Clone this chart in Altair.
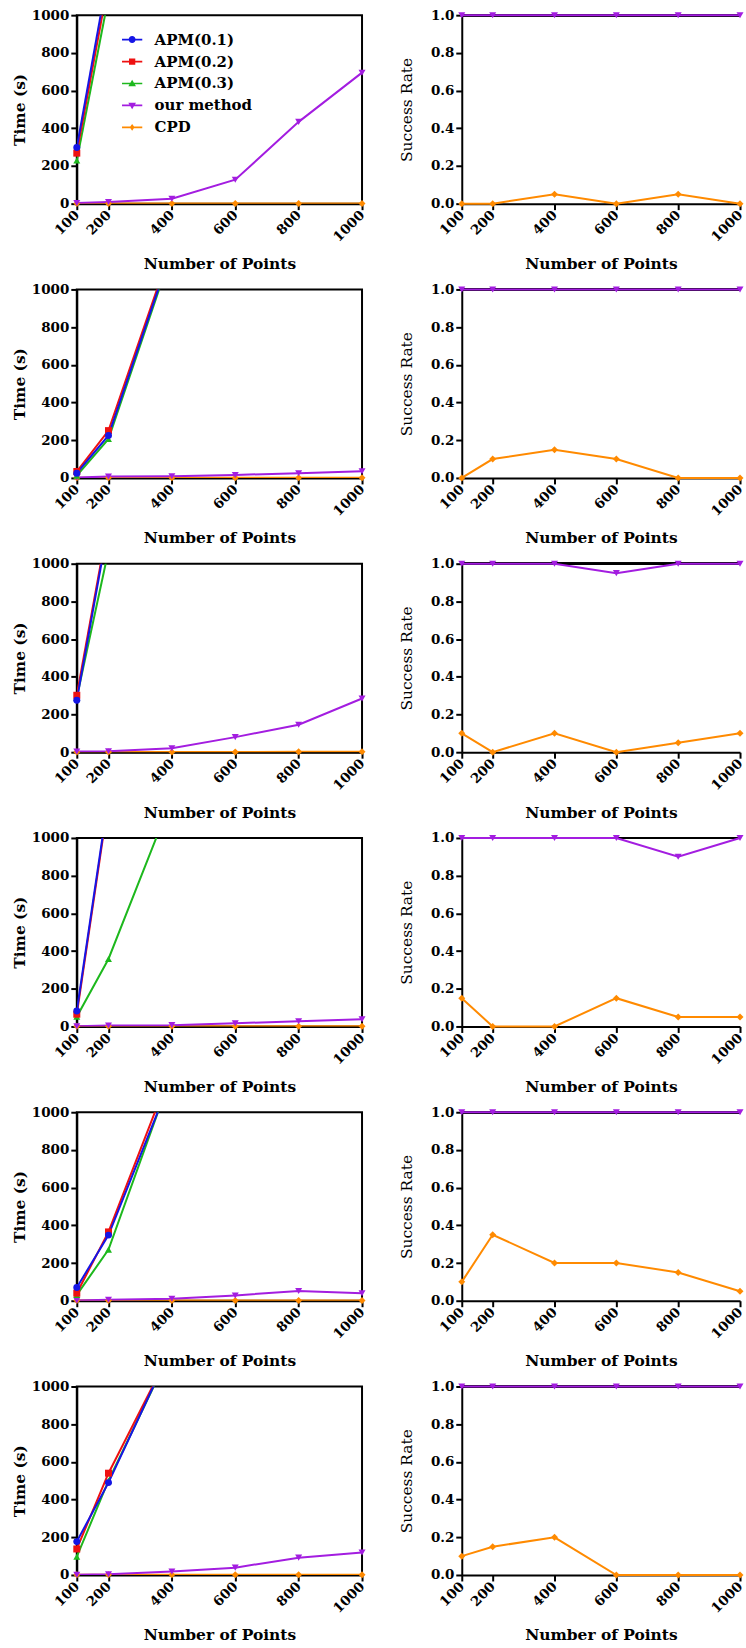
import altair as alt
import pandas as pd

# ---------------- data ----------------
X = [100, 200, 400, 600, 800, 1000]
SERIES = ["APM(0.1)", "APM(0.2)", "APM(0.3)", "our method", "CPD"]
COLORS = ["#1515E6", "#EE1111", "#1DB81D", "#A31DE0", "#FF8A00"]
SHAPES = ["circle", "square", "triangle-up", "triangle-down", "diamond"]

# Time (s) panels (APM values past 1000 run off the top of the plot)
t1_apm1 = [298, 1230]
t1_apm2 = [268, 1176]
t1_apm3 = [229, 1095]
t1_ours = [4, 9, 26, 127, 434, 695]
t1_cpd = [1, 1, 1, 1, 1, 1]

t2_apm1 = [25, 225, 1213]
t2_apm2 = [34, 251, 1230]
t2_apm3 = [12, 207, 1200]
t2_ours = [2, 7, 9, 16, 25, 35]
t2_cpd = [1, 1, 1, 1, 1, 1]

t3_apm1 = [276, 1208]
t3_apm2 = [302, 1227]
t3_apm3 = [290, 1070]
t3_ours = [4, 5, 21, 80, 146, 285]
t3_cpd = [1, 1, 1, 1, 2, 3]

t4_apm1 = [82, 1218]
t4_apm2 = [65, 1200]
t4_apm3 = [52, 358, 1210]
t4_ours = [1, 5, 7, 17, 28, 38]
t4_cpd = [1, 1, 1, 1, 1, 1]

t5_apm1 = [70, 348, 1188]
t5_apm2 = [40, 365, 1232]
t5_apm3 = [31, 271, 1205]
t5_ours = [1, 5, 10, 28, 52, 40]
t5_cpd = [1, 1, 1, 1, 1, 1]

t6_apm1 = [177, 490, 1210]
t6_apm2 = [138, 540, 1202]
t6_apm3 = [97, 500, 1200]
t6_ours = [1, 4, 18, 39, 92, 119]
t6_cpd = [1, 1, 1, 1, 1, 1]

# Success rate panels
s1_ours = [1.0, 1.0, 1.0, 1.0, 1.0, 1.0]
s1_cpd = [0.0, 0.0, 0.05, 0.0, 0.05, 0.0]
s2_ours = [1.0, 1.0, 1.0, 1.0, 1.0, 1.0]
s2_cpd = [0.0, 0.1, 0.15, 0.1, 0.0, 0.0]
s3_ours = [1.0, 1.0, 1.0, 0.95, 1.0, 1.0]
s3_cpd = [0.1, 0.0, 0.1, 0.0, 0.05, 0.1]
s4_ours = [1.0, 1.0, 1.0, 1.0, 0.9, 1.0]
s4_cpd = [0.15, 0.0, 0.0, 0.15, 0.05, 0.05]
s5_ours = [1.0, 1.0, 1.0, 1.0, 1.0, 1.0]
s5_cpd = [0.1, 0.35, 0.2, 0.2, 0.15, 0.05]
s6_ours = [1.0, 1.0, 1.0, 1.0, 1.0, 1.0]
s6_cpd = [0.1, 0.15, 0.2, 0.0, 0.0, 0.0]

TIME_ROWS = [
    (t1_apm1, t1_apm2, t1_apm3, t1_ours, t1_cpd),
    (t2_apm1, t2_apm2, t2_apm3, t2_ours, t2_cpd),
    (t3_apm1, t3_apm2, t3_apm3, t3_ours, t3_cpd),
    (t4_apm1, t4_apm2, t4_apm3, t4_ours, t4_cpd),
    (t5_apm1, t5_apm2, t5_apm3, t5_ours, t5_cpd),
    (t6_apm1, t6_apm2, t6_apm3, t6_ours, t6_cpd),
]
RATE_ROWS = [
    (s1_ours, s1_cpd), (s2_ours, s2_cpd), (s3_ours, s3_cpd),
    (s4_ours, s4_cpd), (s5_ours, s5_cpd), (s6_ours, s6_cpd),
]
TIME_TICKS = [0, 200, 400, 600, 800, 1000]
RATE_TICKS = [0.0, 0.2, 0.4, 0.6, 0.8, 1.0]

# legend symbols: marker with a line through it (unit square paths)
LEG_PATHS = [
    "M-2.9,-0.24H2.9V0.24H-2.9Z M-1,0A1,1,0,1,1,1,0A1,1,0,1,1,-1,0Z",
    "M-2.9,-0.24H2.9V0.24H-2.9Z M-0.9,-0.9H0.9V0.9H-0.9Z",
    "M-2.9,-0.24H2.9V0.24H-2.9Z M0,-1.1L1.1,0.8L-1.1,0.8Z",
    "M-2.9,-0.24H2.9V0.24H-2.9Z M-1.1,-0.8L1.1,-0.8L0,1.1Z",
    "M-2.9,-0.24H2.9V0.24H-2.9Z M0,-0.95L0.7,0L0,0.95L-0.7,0Z",
]

FONT = "DejaVu Serif"
W_LEFT, W_RIGHT, H = 286, 279, 189

X_SCALE = alt.Scale(domain=[100, 1000], nice=False, zero=False)
X_AXIS = alt.Axis(values=X, format="d", labelAngle=-45, labelAlign="right",
                  labelBaseline="middle", title="Number of Points", titlePadding=13,
                  labelPadding=3, labelOverlap=False)
RATE_SCALE = alt.Scale(domain=[0, 1], nice=False)
RATE_AXIS = alt.Axis(values=RATE_TICKS, format=".1f", labelOverlap=False,
                     title="Success Rate", titleFontWeight="normal", titlePadding=16)


def make_df(pairs):
    rows = []
    for name, vals in pairs:
        for x, v in zip(X, vals):
            rows.append({"x": x, "y": v, "series": name})
    return pd.DataFrame(rows)


def x_enc():
    return alt.X("x:Q", scale=X_SCALE, axis=X_AXIS)


def color_enc():
    return alt.Color("series:N", scale=alt.Scale(domain=SERIES, range=COLORS), legend=None)


def shape_enc():
    return alt.Shape("series:N", scale=alt.Scale(domain=SERIES, range=SHAPES), legend=None)


def time_panel(vals, with_legend):
    apm1, apm2, apm3, ours, cpd = vals
    df = make_df([("CPD", cpd), ("our method", ours), ("APM(0.3)", apm3),
                  ("APM(0.2)", apm2), ("APM(0.1)", apm1)])
    y = alt.Y("y:Q", scale=alt.Scale(domain=[0, 1000], nice=False),
              axis=alt.Axis(values=TIME_TICKS, format="d", labelOverlap=False,
                            title="Time (s)", titlePadding=4))
    base = alt.Chart(df)
    line = base.mark_line(clip=True, strokeWidth=2).encode(x=x_enc(), y=y, color=color_enc(),
                                                           detail="series:N")
    pts = base.transform_filter(alt.datum.y <= 1000).mark_point(
        filled=True, size=49, opacity=1).encode(x=x_enc(), y=y, color=color_enc(), shape=shape_enc())
    layers = [line, pts]
    if with_legend:
        leg_common = dict(orient="none", legendX=48, legendY=17, title=None,
                          labelFont=FONT, labelFontSize=15, labelFontWeight="bold",
                          labelColor="black", symbolSize=49, labelOffset=15, rowPadding=6,
                          padding=0, symbolStrokeWidth=0, symbolOpacity=1)
        leg = alt.Chart(pd.DataFrame({"series": SERIES})).transform_filter("false").mark_point(
            filled=True, opacity=1).encode(
            color=alt.Color("series:N", scale=alt.Scale(domain=SERIES, range=COLORS),
                            legend=alt.Legend(**leg_common)),
            shape=alt.Shape("series:N", scale=alt.Scale(domain=SERIES, range=LEG_PATHS),
                            legend=alt.Legend(**leg_common)),
        )
        layers.append(leg)
    ch = alt.layer(*layers).properties(width=W_LEFT, height=H)
    if with_legend:
        ch = ch.resolve_scale(color="independent", shape="independent")
    return ch


def rate_panel(vals):
    ours, cpd = vals
    df = make_df([("CPD", cpd), ("our method", ours)])
    y = alt.Y("y:Q", scale=RATE_SCALE, axis=RATE_AXIS)
    base = alt.Chart(df)
    # top frame line of the panel (drawn first, beneath the data)
    top = base.mark_rule(color="black", strokeWidth=2).encode(
        y=alt.YDatum(1.0, scale=RATE_SCALE, axis=RATE_AXIS),
        x=alt.XDatum(100, scale=X_SCALE, axis=X_AXIS),
        x2=alt.X2Datum(1000))
    line = base.mark_line(strokeWidth=2).encode(x=x_enc(), y=y, color=color_enc(), detail="series:N")
    pts = base.mark_point(filled=True, size=49, opacity=1).encode(
        x=x_enc(), y=y, color=color_enc(), shape=shape_enc())
    return alt.layer(top, line, pts).properties(
        width=W_RIGHT, height=H, view=alt.ViewBackground(stroke="transparent"))


rows = []
for i in range(6):
    rows.append(alt.hconcat(time_panel(TIME_ROWS[i], i == 0), rate_panel(RATE_ROWS[i]), spacing=30))

chart = alt.vconcat(*rows, spacing=8).properties(
    padding={"left": 11, "top": 5, "right": 0, "bottom": 0}
).configure_view(stroke="black", strokeWidth=2).configure_axis(
    labelFont=FONT, labelFontSize=13.5, labelFontWeight="bold", labelColor="black",
    titleFont=FONT, titleFontSize=15.5, titleFontWeight="bold", titleColor="black",
    domainColor="black", domainWidth=2, tickColor="black", tickWidth=2, tickSize=6,
    grid=False, labelPadding=2, labelOverlap=False,
)

chart.save("out.html", embed_options={"renderer": "svg", "actions": False})
